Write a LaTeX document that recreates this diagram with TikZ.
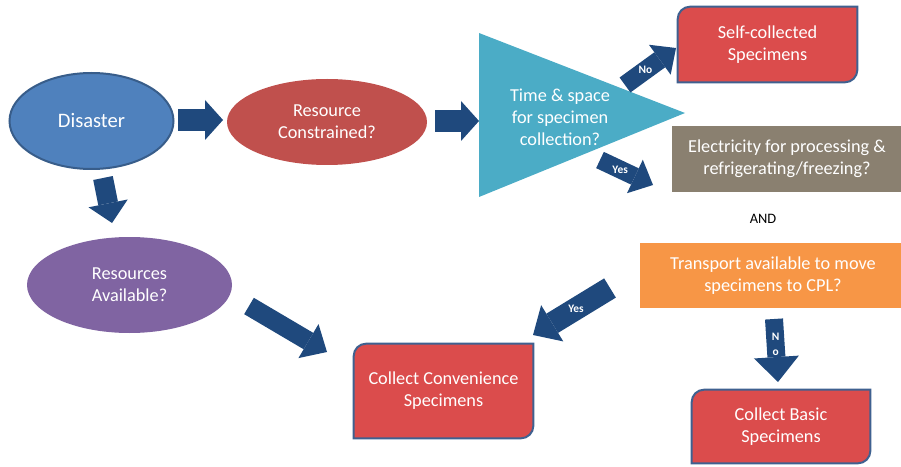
\documentclass[tikz,border=0pt]{standalone}
\usepackage{fontspec}
\setmainfont{Carlito}
\usetikzlibrary{arrows.meta,shapes.geometric,backgrounds}

\definecolor{arrowblue}{HTML}{1F497D}
\definecolor{disblue}{HTML}{4F81BD}
\definecolor{disedge}{HTML}{385D8A}
\definecolor{resred}{HTML}{C0504D}
\definecolor{availpurple}{HTML}{8064A2}
\definecolor{timeblue}{HTML}{4BACC6}
\definecolor{specred}{HTML}{DB4C4C}
\definecolor{specedge}{HTML}{3F6190}
\definecolor{elecgrey}{HTML}{8A8070}
\definecolor{transorange}{HTML}{F79646}

\tikzset{
  txt/.style={text=white, align=center, inner sep=0pt, font=\fontsize{10.4}{12.6}\selectfont},
  oval/.style={ellipse, txt, inner sep=0pt},
  question/.style={rectangle, txt},
  specbox/.style={rectangle, txt},
  blockarrow/.style n args={3}{line width=#1, color=arrowblue,
    -{Triangle[width=#2, length=#3, line width=0pt]}},
  armlabel/.style={text=white, inner sep=0pt, font=\fontsize{6.5}{7}\bfseries\selectfont, align=center}
}

% outline with rounded top-left and bottom-right corners
\newcommand{\diagcorners}[1]{%
  \filldraw[fill=specred, draw=specedge, line width=0.04cm]
    (#1.north east) [rounded corners=0.25cm] -- (#1.north west)
    [sharp corners] -- (#1.south west)
    [rounded corners=0.25cm] -- (#1.south east)
    [sharp corners] -- cycle;}

\begin{document}
\begin{tikzpicture}
    \useasboundingbox (0,0) rectangle (18.02,9.32);

    % start and the two questions on the left
    \node[oval, fill=disblue, draw=disedge, line width=0.04cm, minimum width=3.28cm, minimum height=1.92cm,
          font=\fontsize{11.7}{14}\selectfont] (disaster) at (1.83,6.9) {Disaster};
    \node[oval, fill=resred, minimum width=4.0cm, minimum height=1.72cm] (resource) at (6.54,6.88) {Resource\\Constrained?};
    \node[oval, fill=availpurple, minimum width=4.1cm, minimum height=1.92cm] (available) at (2.59,3.62) {Resources\\Available?};

    % time & space triangle
    \coordinate (T1) at (9.58,8.66);
    \coordinate (T2) at (13.7,7.06);
    \coordinate (T3) at (9.58,5.38);
    \fill[timeblue] (T1) -- (T2) -- (T3) -- cycle;
    \node[txt] (timespace) at (11.2,6.98) {Time \& space\\for specimen\\collection?};

    % right hand questions
    \node[question, fill=elecgrey, minimum width=4.6cm, minimum height=1.32cm] (electricity) at (15.74,6.14)
        {Electricity for processing \&\\refrigerating/freezing?};
    \node[text=black, font=\fontsize{8.2}{9}\selectfont, inner sep=0pt] (andnode) at (15.26,4.94) {AND};
    \node[question, fill=transorange, minimum width=5.32cm, minimum height=1.3cm] (transport) at (15.46,3.81)
        {Transport available to move\\specimens to CPL?};

    % specimen boxes
    \node[specbox, minimum width=3.58cm, minimum height=1.5cm] (selfcol) at (15.35,8.43) {Self-collected\\Specimens};
    \node[specbox, minimum width=3.58cm, minimum height=1.88cm] (conven) at (8.87,1.5) {Collect Convenience\\Specimens};
    \node[specbox, minimum width=3.56cm, minimum height=1.46cm] (basic) at (15.62,0.79) {Collect Basic\\Specimens};
    \begin{scope}[on background layer]
        \diagcorners{selfcol}
        \diagcorners{conven}
        \diagcorners{basic}
    \end{scope}

    % arrow ends
    \coordinate (A) at (3.56,6.92);
    \coordinate (B) at (4.46,6.92);
    \coordinate (C) at (8.70,6.90);
    \coordinate (D) at (9.58,6.90);
    \coordinate (E) at (2.06,5.76);
    \coordinate (F) at (2.24,4.86);
    \coordinate (G) at (12.50,7.62);
    \coordinate (H) at (13.52,8.36);
    \coordinate (I) at (12.00,6.12);
    \coordinate (J) at (13.06,5.62);
    \coordinate (K) at (4.98,3.20);
    \coordinate (L) at (6.54,2.28);
    \coordinate (M) at (12.20,3.56);
    \coordinate (N) at (10.66,2.62);
    \coordinate (O) at (15.48,2.94);
    \coordinate (P) at (15.56,1.68);

    \draw[blockarrow={0.44cm}{0.8cm}{0.36cm}] (A) -- (B);
    \draw[blockarrow={0.44cm}{0.8cm}{0.36cm}] (C) -- (D);
    \draw[blockarrow={0.4cm}{0.8cm}{0.4cm}] (E) -- (F);
    \draw[blockarrow={0.37cm}{0.74cm}{0.4cm}] (G) -- node[armlabel, pos=0.4] (nolab) {No} (H);
    \draw[blockarrow={0.36cm}{0.74cm}{0.4cm}] (I) -- node[armlabel, pos=0.38] (yeslab) {Yes} (J);
    \draw[blockarrow={0.38cm}{0.79cm}{0.43cm}] (K) -- (L);
    \draw[blockarrow={0.45cm}{0.85cm}{0.45cm}] (M) -- node[armlabel, pos=0.44] (yesbig) {Yes} (N);
    \draw[blockarrow={0.36cm}{0.9cm}{0.5cm}] (O) -- node[armlabel, pos=0.4, font=\fontsize{6.5}{8.5}\bfseries\selectfont] (nodown) {N\\o} (P);

\end{tikzpicture}
\end{document}
